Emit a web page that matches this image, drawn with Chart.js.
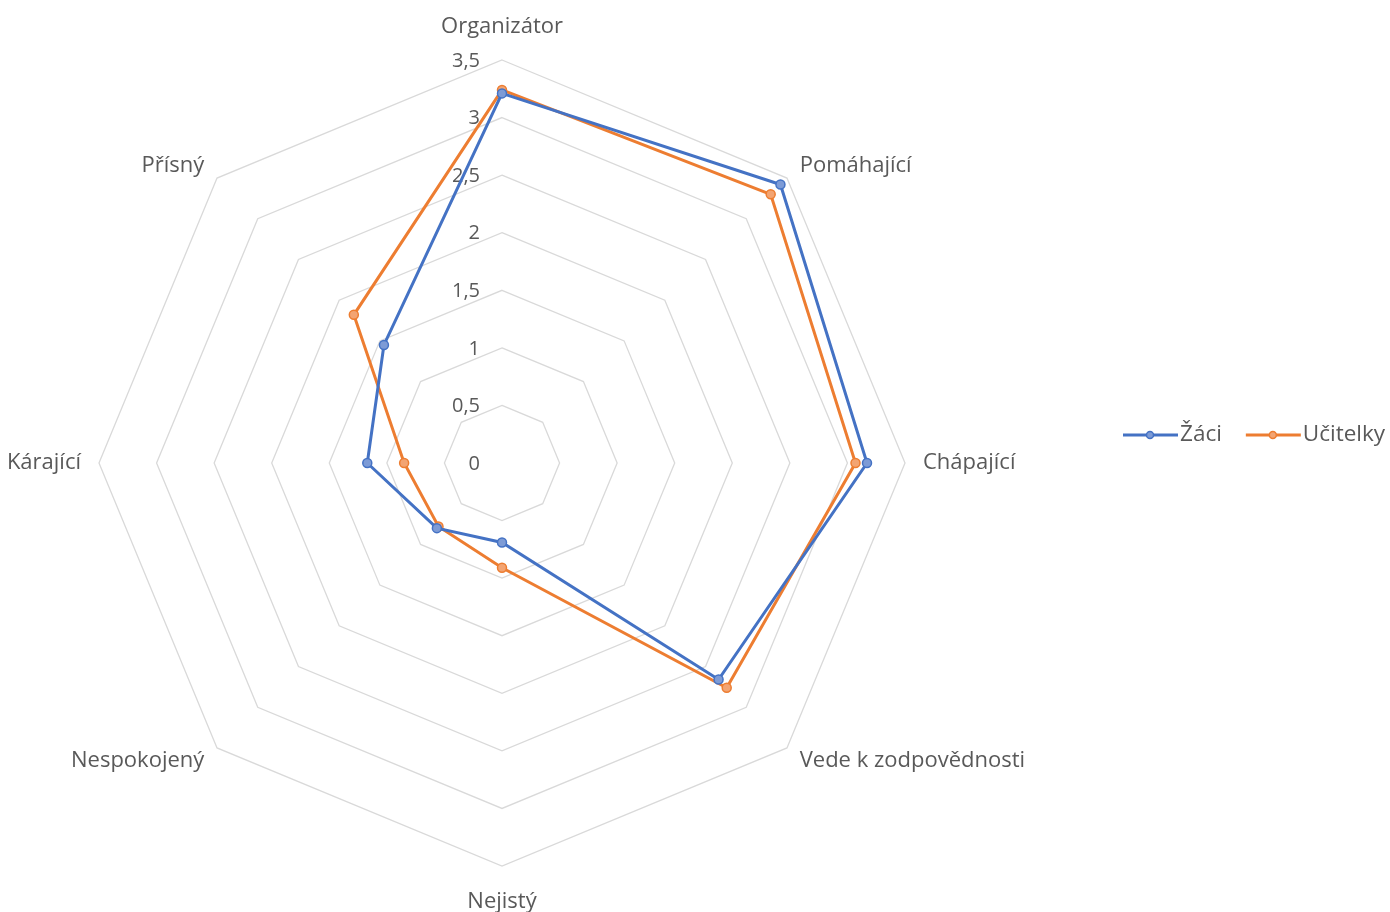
<!DOCTYPE html>
<html>
<head>
<meta charset="utf-8">
<script src="https://cdn.jsdelivr.net/npm/chart.js@4.4.1/dist/chart.umd.min.js"></script>
<style>
html, body { margin: 0; padding: 0; background: #fff; }
</style>
</head>
<body>
<canvas id="radar" width="1390" height="912"></canvas>
<script>
const categories = ['Organizátor', 'Pomáhající', 'Chápající', 'Vede k zodpovědnosti', 'Nejistý', 'Nespokojený', 'Kárající', 'Přísný'];
const zaci = [3.21, 3.42, 3.17, 2.66, 0.69, 0.80, 1.17, 1.45];
const ucitelky = [3.24, 3.30, 3.07, 2.76, 0.91, 0.78, 0.85, 1.82];
const tickValues = [0, 0.5, 1, 1.5, 2, 2.5, 3, 3.5];

const FONT = '"Open Sans", "Noto Sans", sans-serif';
const TEXT = '#595959';

// value labels along the vertical axis, right-aligned left of the centre line
const tickLabels = {
    id: 'tickLabels',
    beforeDatasetsDraw(chart) {
        const r = chart.scales.r;
        const ctx = chart.ctx;
        ctx.save();
        ctx.font = '20px ' + FONT;
        ctx.fillStyle = TEXT;
        ctx.textAlign = 'right';
        ctx.textBaseline = 'middle';
        tickValues.forEach(v => {
            const y = r.yCenter - r.getDistanceFromCenterForValue(v);
            ctx.fillText(String(v).replace('.', ','), r.xCenter - 22, y + 1);
        });
        ctx.restore();
    }
};

// category names just outside the outer polygon
const categoryLabels = {
    id: 'categoryLabels',
    afterDraw(chart) {
        const r = chart.scales.r;
        const ctx = chart.ctx;
        ctx.save();
        ctx.font = '22px ' + FONT;
        ctx.fillStyle = TEXT;
        ctx.textBaseline = 'middle';
        chart.data.labels.forEach((label, i) => {
            const a = r.getIndexAngle(i);
            const s = Math.sin(a);
            const vertical = Math.abs(s) < 0.01;
            const gap = vertical ? (Math.cos(a) > 0 ? 33 : 36) : 18;
            const p = r.getPointPosition(i, r.drawingArea + gap);
            ctx.textAlign = vertical ? 'center' : (s > 0 ? 'left' : 'right');
            ctx.fillText(label, p.x, p.y);
        });
        ctx.restore();
    }
};

// horizontal legend on the right side
const sideLegend = {
    id: 'sideLegend',
    afterDraw(chart) {
        const ctx = chart.ctx;
        let x = 1123;
        const y = 435;
        ctx.save();
        ctx.font = '22.5px ' + FONT;
        ctx.textBaseline = 'middle';
        chart.data.datasets.forEach(ds => {
            ctx.strokeStyle = ds.borderColor;
            ctx.lineWidth = 3;
            ctx.beginPath();
            ctx.moveTo(x, y);
            ctx.lineTo(x + 55, y);
            ctx.stroke();
            ctx.beginPath();
            ctx.arc(x + 27, y, 3.5, 0, Math.PI * 2);
            ctx.fillStyle = ds.pointBackgroundColor;
            ctx.fill();
            ctx.lineWidth = 1.5;
            ctx.stroke();
            ctx.fillStyle = TEXT;
            ctx.fillText(ds.label, x + 57, y);
            x += 57 + ctx.measureText(ds.label).width + 24;
        });
        ctx.restore();
    }
};

new Chart(document.getElementById('radar').getContext('2d'), {
    type: 'radar',
    data: {
        labels: categories,
        datasets: [{
            label: 'Žáci',
            data: zaci,
            borderColor: '#4472C4',
            backgroundColor: 'rgba(0,0,0,0)',
            pointBackgroundColor: '#7d9bd6',
            pointBorderColor: '#4472C4',
            borderWidth: 3,
            pointRadius: 4.5,
            pointBorderWidth: 1.5,
            fill: false
        }, {
            label: 'Učitelky',
            data: ucitelky,
            borderColor: '#ED7D31',
            backgroundColor: 'rgba(0,0,0,0)',
            pointBackgroundColor: '#f3a472',
            pointBorderColor: '#ED7D31',
            borderWidth: 3,
            pointRadius: 4.5,
            pointBorderWidth: 1.5,
            fill: false
        }]
    },
    options: {
        responsive: false,
        animation: false,
        // plot area 806px square, centred at (502, 463)
        layout: { padding: { top: 60, bottom: 46, left: 99, right: 485 } },
        plugins: {
            legend: { display: false },
            tooltip: { enabled: false }
        },
        scales: {
            r: {
                min: 0,
                max: 3.5,
                ticks: { display: false, stepSize: 0.5 },
                angleLines: { display: false },
                grid: { color: '#d9d9d9', lineWidth: 1.3 },
                pointLabels: { display: false }
            }
        }
    },
    plugins: [tickLabels, categoryLabels, sideLegend]
});
</script>
</body>
</html>
